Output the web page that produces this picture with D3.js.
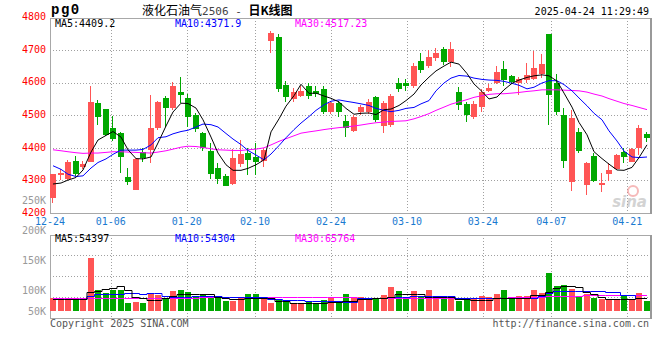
<!DOCTYPE html>
<html><head><meta charset="utf-8">
<script src="https://cdn.jsdelivr.net/npm/d3@7"></script>
<style>body{margin:0;background:#fff}svg{display:block}</style>
</head><body>
<svg id="c" width="660" height="360"></svg>
<script>
const dates = ["12-24","12-25","12-26","12-27","12-30","12-31",
"01-02","01-03","01-06","01-07","01-08","01-09","01-10","01-13","01-14","01-15","01-16","01-17","01-20","01-21","01-22","01-23","01-24","01-27",
"02-05","02-06","02-07","02-10","02-11","02-12","02-13","02-14","02-17","02-18","02-19","02-20","02-21","02-24","02-25","02-26","02-27","02-28",
"03-03","03-04","03-05","03-06","03-07","03-10","03-11","03-12","03-13","03-14","03-17","03-18","03-19","03-20","03-21","03-24","03-25","03-26","03-27","03-28","03-31",
"04-01","04-02","04-03","04-07","04-08","04-09","04-10","04-11","04-14","04-15","04-16","04-17","04-18","04-21","04-22","04-23","04-24"];
const open = [4247,4318,4304,4360,4342,4355,4538,4518,4460,4445,
4312,4271,4388,4394,4460,4554,4521,4572,4552,4501,
4445,4390,4337,4314,4288,4351,4385,4373,4360,4729,
4740,4593,4550,4560,4590,4575,4580,4511,4537,4483,
4452,4509,4511,4555,4468,4470,4600,4600,4590,4665,
4650,4675,4702,4664,4572,4535,4496,4526,4575,4598,
4641,4620,4598,4608,4611,4627,4749,4598,4501,4296,
4448,4286,4375,4286,4320,4335,4388,4358,4401,4441];
const close = [4320,4322,4355,4320,4350,4542,4496,4440,4426,4373,
4296,4365,4368,4460,4542,4521,4590,4562,4496,4457,
4399,4320,4305,4284,4368,4380,4363,4358,4394,4752,
4580,4555,4570,4575,4560,4565,4510,4537,4511,4460,
4496,4524,4542,4486,4537,4560,4580,4590,4650,4640,
4680,4692,4664,4703,4532,4501,4535,4572,4585,4634,
4608,4603,4611,4624,4644,4657,4562,4511,4361,4493,
4391,4353,4298,4293,4332,4378,4373,4396,4460,4429];
const high = [4320,4335,4362,4375,4360,4590,4548,4520,4497,4450,
4338,4368,4401,4562,4545,4560,4603,4616,4564,4507,
4450,4414,4353,4320,4396,4424,4399,4414,4398,4760,
4750,4605,4585,4590,4600,4590,4590,4545,4545,4501,
4500,4530,4550,4560,4545,4565,4615,4610,4660,4690,
4700,4705,4710,4726,4586,4540,4545,4580,4595,4650,
4665,4625,4618,4660,4697,4687,4750,4627,4521,4516,
4460,4356,4385,4324,4354,4381,4401,4400,4470,4450];
const low = [4230,4300,4300,4315,4335,4355,4470,4435,4420,4322,
4286,4271,4358,4353,4455,4465,4515,4537,4465,4450,
4390,4305,4290,4282,4286,4342,4317,4317,4342,4692,
4570,4540,4540,4555,4550,4555,4505,4505,4496,4434,
4450,4500,4505,4480,4446,4465,4570,4575,4585,4630,
4645,4665,4655,4649,4516,4478,4490,4510,4570,4595,
4590,4595,4562,4600,4608,4613,4470,4501,4339,4269,
4385,4256,4295,4263,4298,4333,4353,4355,4378,4419];
const volume = [52000,52000,52000,47500,52000,218000,85000,73000,85000,86000,
32000,38000,32000,72000,65000,53000,81000,85000,78000,62000,
68000,63000,55000,41000,41000,55000,70000,70000,56000,33000,
48000,41000,34000,30000,41000,30000,45000,57000,42000,70000,
55000,57000,55000,55000,66000,98000,82000,59000,82000,59000,
86000,55000,55000,55000,41000,55000,55000,62000,57000,70000,
86000,52000,60000,60000,86000,74000,156000,103000,107000,90000,
63000,70000,53000,50000,50000,45000,60000,50000,74000,41000];
const ma5 = [4289,4292,4301,4309,4332,4387,4424,4438,4450,4433,
4394,4367,4366,4372,4415,4467,4510,4537,4536,4522,
4486,4433,4384,4348,4331,4331,4337,4348,4363,4449,
4489,4528,4560,4595,4567,4568,4559,4552,4541,4521,
4503,4506,4507,4502,4517,4519,4530,4545,4565,4593,
4617,4636,4651,4663,4657,4628,4596,4573,4550,4556,
4578,4598,4608,4616,4621,4624,4621,4605,4568,4525,
4478,4440,4388,4367,4350,4332,4331,4340,4370,4409.2];
const ma10 = [4345,4334,4319,4312,4314,4338,4355,4366,4380,4393,
4393,4393,4395,4409,4431,4434,4443,4450,4454,4464,
4473,4471,4464,4444,4427,4410,4392,4378,4363,4381,
4407,4431,4456,4476,4496,4515,4532,4543,4547,4543,
4539,4535,4530,4521,4515,4511,4515,4521,4524,4535,
4545,4575,4599,4614,4622,4620,4614,4610,4608,4607,
4604,4598,4592,4581,4586,4599,4606,4606,4594,4575,
4553,4529,4506,4486,4452,4421,4390,4372,4370,4371.9];
const ma30 = [4394,4391,4388,4385,4383,4384,4384,4386,4388,4388,
4387,4386,4385,4384,4387,4391,4396,4402,4405,4404,
4401,4397,4394,4393,4392,4392,4394,4396,4400,4409,
4420,4428,4437,4445,4449,4452,4456,4459,4462,4464,
4467,4470,4474,4477,4479,4481,4482,4483,4489,4496,
4505,4515,4525,4534,4541,4548,4555,4560,4564,4566,
4566,4568,4570,4573,4575,4578,4578,4578,4577,4576,
4575,4571,4565,4559,4551,4543,4536,4530,4524,4517.23];
const volMa5 = [48,48,48,48,48,77,83,90,96,104,
86,59,52,45,45,52,63,68,68,68,
68,68,56,52,48,48,52,52,55,55,
41,41,34,34,31,31,31,38,38,42,
42,48,48,52,52,59,68,68,68,68,
59,59,59,59,48,48,45,45,45,55,
55,55,55,55,66,66,79,93,102,102,
97,79,68,59,49,49,49,49,52,54.397].map(v => v * 1000);
const volMa10 = [48,48,48,48,48,63,70,70,70,70,
72,72,68,72,72,63,56,56,56,63,
63,63,63,56,56,56,56,56,56,49,
49,45,45,45,41,41,41,41,41,38,
38,52,52,52,52,59,59,59,63,63,
63,63,63,63,55,55,55,55,55,52,
52,52,52,52,52,63,72,82,82,82,
82,82,82,82,77,77,66,66,55,54.304].map(v => v * 1000);
const volMa30 = [55,55,55,55,55,55,55,55,55,55,
55,55,55,55,55,55,55,55,55,55,
59,59,59,59,59,59,59,59,59,59,
59,56,56,56,56,56,56,56,56,56,
56,53,53,53,53,53,53,53,53,53,
53,55,55,55,55,55,55,55,55,55,
55,57,57,57,57,57,63,63,63,63,
63,64,64,64,64,64,64,64,64,65.764].map(v => v * 1000);
const priceTicks = [4800,4700,4600,4500,4400,4300,4200];
const volTicks = [250000,200000,150000,100000,50000];
const dateTicks = ["12-24","01-06","01-20","02-10","02-24","03-10","03-24","04-07","04-21"];

const RED = "#ff5555", GREEN = "#00a800";
const MONO = "'DejaVu Sans Mono', monospace";
const L = 50, R = 650, PT = 17.5, PB = 213, VT = 234.5, VB = 317.5, VBASE = 311;
const svg = d3.select("#c");
const idx = d3.range(dates.length);

const xb = d3.scaleBand().domain(idx).range([L, R]).paddingInner(0.2).paddingOuter(0);
const bw = Math.round(xb.bandwidth());
const xc = i => Math.round(xb(i)) + bw / 2;
const xg = d3.scaleLinear().domain([0, dates.length - 1]).range([L, R]);
const yP = d3.scaleLinear().domain([4200, 4800]).range([PB, PT]);
const yV = d3.scaleLinear().domain([0, 314000]).range([VBASE, VT]);
const yVL = d3.scaleLinear().domain([0, 250000]).range([351, 200]);

// grids
const grid = svg.append("g").attr("stroke", "#a0a0a0").attr("stroke-dasharray", "1,2").attr("shape-rendering", "crispEdges");
priceTicks.slice(1, -1).forEach(p => {
  grid.append("line").attr("x1", L).attr("x2", R).attr("y1", Math.round(yP(p)) + 0.5).attr("y2", Math.round(yP(p)) + 0.5);
});
[0.25, 0.5, 0.75].forEach(f => {
  const y = Math.round(VT + (VB - VT) * f) + 0.5;
  grid.append("line").attr("x1", L).attr("x2", R).attr("y1", y).attr("y2", y);
});
dateTicks.slice(1).forEach(d => {
  const x = Math.round(xg(dates.indexOf(d))) + 0.5;
  grid.append("line").attr("x1", x).attr("x2", x).attr("y1", PT).attr("y2", PB);
  grid.append("line").attr("x1", x).attr("x2", x).attr("y1", VT).attr("y2", VB);
});

// borders
const bord = svg.append("g").attr("fill", "none").attr("shape-rendering", "crispEdges");
[[PT, PB], [VT, VB]].forEach(([t, b]) => {
  bord.append("path").attr("d", `M${R},${t + 0.5}H${L + 0.5}V${b + 0.5}H${R}`).attr("stroke", "#a8a8a8");
  bord.append("line").attr("x1", R + 0.5).attr("x2", R + 0.5).attr("y1", t).attr("y2", b + 1).attr("stroke", "#999").attr("stroke-width", 2);
});

// watermark
const wm = svg.append("g").attr("opacity", 0.55);
wm.append("circle").attr("cx", 633).attr("cy", 191).attr("r", 5).attr("fill", "none").attr("stroke", "#f08080").attr("stroke-width", 2);
wm.append("text").attr("x", 647).attr("y", 207).attr("text-anchor", "end").attr("font-family", "'DejaVu Sans', sans-serif")
  .attr("font-style", "italic").attr("font-weight", "bold").attr("font-size", 15).attr("fill", "#b0b0b0").text("sina");

// candles
const cg = svg.append("g").attr("shape-rendering", "crispEdges");
idx.forEach(i => {
  const up = close[i] >= open[i];
  const col = up ? RED : GREEN;
  const x0 = Math.round(xb(i));
  cg.append("line").attr("x1", x0 + 2.5).attr("x2", x0 + 2.5)
    .attr("y1", yP(high[i])).attr("y2", yP(low[i])).attr("stroke", col);
  const yt = yP(Math.max(open[i], close[i])), yb = yP(Math.min(open[i], close[i]));
  cg.append("rect").attr("x", x0).attr("width", bw).attr("y", Math.round(yt))
    .attr("height", Math.max(1, Math.round(yb) - Math.round(yt))).attr("fill", col);
  cg.append("rect").attr("x", x0).attr("width", bw).attr("y", Math.round(yV(volume[i])))
    .attr("height", VBASE - Math.round(yV(volume[i]))).attr("fill", col);
});

// MA lines
const line = arr => d3.line().x((d, i) => xc(i)).y(d => yP(d))(arr);
[[ma30, "#ff00ff"], [ma10, "#0000ff"], [ma5, "#000000"]].forEach(([a, c]) => {
  svg.append("path").attr("d", line(a)).attr("fill", "none").attr("stroke", c).attr("stroke-width", 1);
});
const vline = arr => d3.line().curve(d3.curveStep).x((d, i) => xc(i)).y(d => Math.round(yV(d)) + 0.5)(arr);
[[volMa30, "#ff00ff"], [volMa10, "#0000ff"], [volMa5, "#000000"]].forEach(([a, c]) => {
  svg.append("path").attr("d", vline(a)).attr("fill", "none").attr("stroke", c).attr("stroke-width", 1);
});

// axes
const pAx = svg.append("g").attr("transform", `translate(${L},-1)`)
  .call(d3.axisLeft(yP).tickValues(priceTicks).tickSize(0).tickPadding(4).tickFormat(d3.format("d")));
pAx.select(".domain").remove();
pAx.selectAll("text").attr("fill", "#ff0000").attr("font-family", MONO).attr("font-size", 10);

const vAx = svg.append("g").attr("transform", `translate(${L},0.5)`)
  .call(d3.axisLeft(yVL).tickValues(volTicks).tickSize(0).tickPadding(4).tickFormat(d => d / 1000 + "K"));
vAx.select(".domain").remove();
vAx.selectAll(".tick").attr("transform", d => `translate(0,${Math.min(yVL(d), VBASE)})`);
vAx.selectAll("text").attr("fill", "#999").attr("font-family", MONO).attr("font-size", 10);

const xAx = svg.append("g").attr("font-family", MONO).attr("font-size", 10).attr("fill", "#1a7ad0");
dateTicks.forEach(d => {
  xAx.append("text").attr("x", xg(dates.indexOf(d))).attr("y", 225).attr("text-anchor", "middle").text(d);
});

// texts
const t = (x, y, s, c, opt = {}) => svg.append("text").attr("x", x).attr("y", y).attr("fill", c)
  .attr("font-family", opt.f || MONO).attr("font-size", opt.s || 10).attr("font-weight", opt.w || "normal")
  .attr("text-anchor", opt.a || "start").text(s);
t(51, 14, "pg0", "#000", { s: 14, w: "bold", f: "'Liberation Mono', 'DejaVu Sans Mono', monospace" }).attr("letter-spacing", 1.5);
const title = svg.append("text").attr("x", 142).attr("y", 15).attr("font-size", 12).attr("font-family", "'Noto Sans CJK SC', sans-serif");
title.append("tspan").attr("fill", "#000").text("液化石油气");
title.append("tspan").attr("fill", "#444").attr("font-family", MONO).attr("font-size", 11).text("2506 - ");
title.append("tspan").attr("fill", "#000").attr("font-weight", "bold").text("日K线图");
t(649, 15, "2025-04-24 11:29:49", "#000", { a: "end" });
t(55, 27, "MA5:4409.2", "#000");
t(175, 27, "MA10:4371.9", "#0000ff");
t(295, 27, "MA30:4517.23", "#ff00ff");
t(55, 242, "MA5:54397", "#000");
t(175, 242, "MA10:54304", "#0000ff");
t(295, 242, "MA30:65764", "#ff00ff");
t(50, 327, "Copyright 2025 SINA.COM", "#555");
t(649, 327, "http://finance.sina.com.cn", "#555", { a: "end" });
</script>
</body></html>
